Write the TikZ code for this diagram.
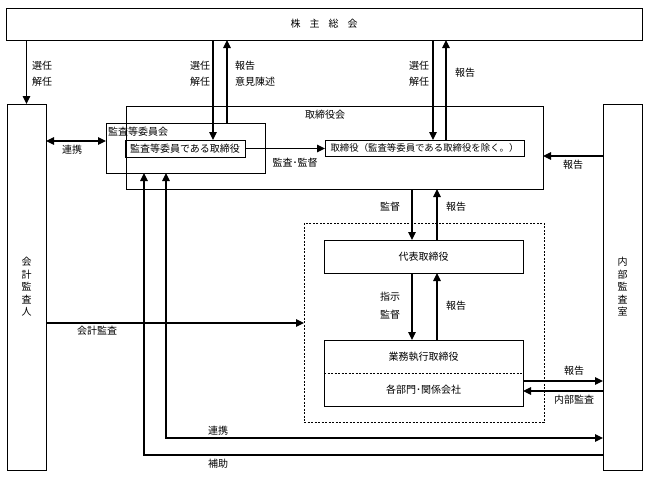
\documentclass[tikz,border=0pt]{standalone}
\usepackage{fontspec}
\newfontfamily\jp{Noto Sans CJK JP}
\usetikzlibrary{arrows.meta,calc}
\begin{document}
\begin{tikzpicture}[x=1pt,y=-1pt,
  every node/.style={font=\jp\fontsize{10}{12}\selectfont, inner sep=0pt, outer sep=0pt},
  box/.style={draw, line width=0.8pt, anchor=north west},
  dbox/.style={draw, line width=0.7pt, dash pattern=on 2pt off 1.5pt, anchor=north west},
  arr/.style={line width=1.1pt, -{Triangle[length=8pt,width=7.5pt]}},
  darr/.style={line width=1.1pt, {Triangle[length=8pt,width=7.5pt]}-{Triangle[length=8pt,width=7.5pt]}},
  plain/.style={line width=1.1pt},
  vtext/.style={align=center, font=\jp\fontsize{10}{12.5}\selectfont},
]
\useasboundingbox (0,0) rectangle (648,479);

% boxes
\node[box, minimum width=636pt, minimum height=32pt] (gm) at (6,8) {株\hspace{9pt}主\hspace{9pt}総\hspace{9pt}会};
\node[box, vtext, minimum width=39pt, minimum height=366pt] (aud) at (7,104) {会\\計\\監\\査\\人};
\node[box, vtext, minimum width=39pt, minimum height=366pt] (ia) at (603,104) {内\\部\\監\\査\\室};
\node[box, minimum width=417pt, minimum height=83pt] (board) at (126,106) {};
\node (boardlbl) at (325,115) {取締役会};
\node[box, minimum width=159pt, minimum height=50pt] (ac) at (106,123) {};
\node[anchor=west] (aclbl) at (108,132) {監査等委員会};
\node[box, minimum width=120pt, minimum height=17pt] (acd) at (125,140) {監査等委員である取締役};
\node[box, minimum width=199pt, minimum height=16pt, font=\jp\fontsize{9.4}{11}\selectfont] (dir) at (325,140) {取締役（監査等委員である取締役を除く。）};
\node[dbox, minimum width=240pt, minimum height=199pt] (ds) at (304,223) {};
\node[box, minimum width=199pt, minimum height=33pt] (rep) at (324,240) {代表取締役};
\node[anchor=north west, minimum width=199pt, minimum height=33pt] (exa) at (324,340) {業務執行取締役};
\node[anchor=north west, minimum width=199pt, minimum height=33pt] (exb) at (324,373) {各部門･関係会社};
\draw[line width=0.8pt] (exa.north west) rectangle (exb.south east);
\draw[line width=0.7pt, dash pattern=on 2pt off 1.5pt] (exa.south west) -- (exa.south east);

% helper coordinates
\coordinate (xA) at (213,0);
\coordinate (xB) at (227,0);
\coordinate (xC) at (433,0);
\coordinate (xD) at (446,0);
\coordinate (xE) at (412,0);
\coordinate (xF) at (437,0);
\coordinate (xG) at (166,0);
\coordinate (xH) at (144,0);
\coordinate (yA) at (0,141);
\coordinate (yB) at (0,156);
\coordinate (yC) at (0,323);
\coordinate (yD) at (0,381);
\coordinate (yE) at (0,391);
\coordinate (yF) at (0,438);
\coordinate (yG) at (0,455);

% connectors
\draw[arr] (gm.south -| aud.north) -- (aud.north);
\draw[arr] (gm.south -| xA) -- (acd.north -| xA);
\draw[arr] (ac.north -| xB) -- (gm.south -| xB);
\draw[arr] (gm.south -| xC) -- (dir.north -| xC);
\draw[arr] (dir.north -| xD) -- (gm.south -| xD);
\draw[darr] (aud.east |- yA) -- (ac.west |- yA);
\draw[arr] (acd.east) -- (dir.west |- acd.east);
\draw[arr] (ia.west |- yB) -- (board.east |- yB);
\draw[arr] (board.south -| xE) -- (rep.north -| xE);
\draw[arr] (rep.north -| xF) -- (board.south -| xF);
\draw[arr] (rep.south -| xE) -- (exa.north -| xE);
\draw[arr] (exa.north -| xF) -- (rep.south -| xF);
\draw[arr] (aud.east |- yC) -- (ds.west |- yC);
\draw[arr] (exb.east |- yD) -- (ia.west |- yD);
\draw[arr] (ia.west |- yE) -- (exb.east |- yE);
\draw[darr] (ac.south -| xG) |- (ia.west |- yF);
\draw[arr] (ia.west |- yG) -| (ac.south -| xH);

% labels
\node[anchor=west] at (32,66) {選任};
\node[anchor=west] at (32,82) {解任};
\node[anchor=east] at (210,66) {選任};
\node[anchor=east] at (210,82) {解任};
\node[anchor=west] at (235,66) {報告};
\node[anchor=west] at (235,82) {意見陳述};
\node[anchor=east] at (429,66) {選任};
\node[anchor=east] at (429,82) {解任};
\node[anchor=west] at (455,73) {報告};
\node at (72,150) {連携};
\node at (295,163) {監査･監督};
\node at (573,165) {報告};
\node at (390,207) {監督};
\node at (456,207) {報告};
\node at (390,297) {指示};
\node at (390,315) {監督};
\node at (456,306) {報告};
\node at (97,331) {会計監査};
\node at (574,371) {報告};
\node at (574,400) {内部監査};
\node at (218,431) {連携};
\node at (218,464) {補助};
\end{tikzpicture}
\end{document}
